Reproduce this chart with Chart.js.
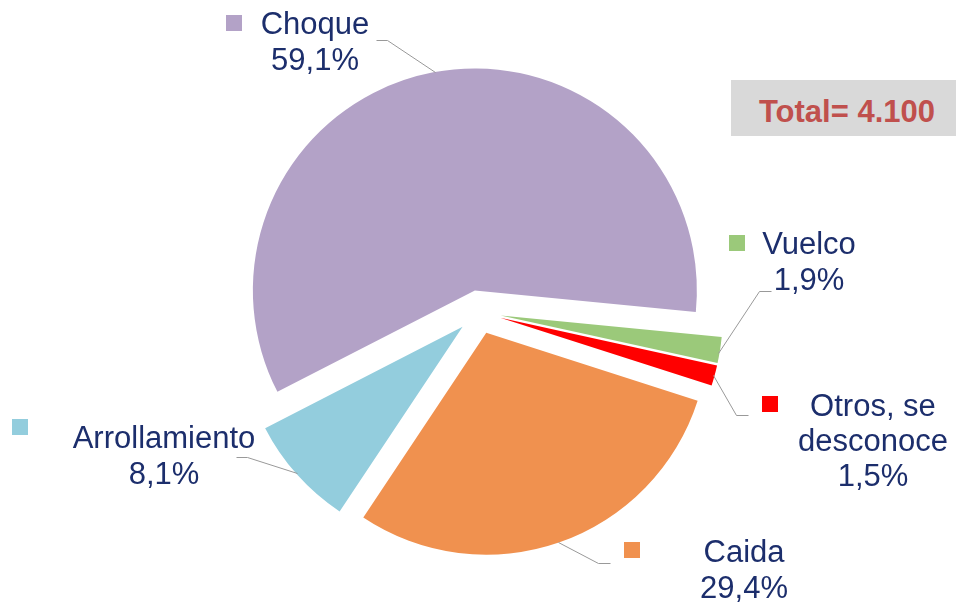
<!DOCTYPE html>
<html><head><meta charset="utf-8">
<script src="https://cdn.jsdelivr.net/npm/chart.js@4.4.0/dist/chart.umd.min.js"></script>
<style>
html,body{margin:0;padding:0;background:#fff;}
#wrap{position:relative;width:958px;height:603px;overflow:hidden;}
#wrap canvas{position:absolute;left:0;top:0;}
.lbl{position:absolute;font-family:"Liberation Sans",Arial,sans-serif;font-size:31px;line-height:36px;color:#1c2e6c;text-align:center;transform:translateX(-50%);}
.sq{position:absolute;width:16px;height:16px;}
#totalBox{position:absolute;left:731px;top:80px;width:225px;height:56px;background:#d9d9d9;}
#totalTxt{position:absolute;left:847px;top:94px;transform:translateX(-50%);font-family:"Liberation Sans",Arial,sans-serif;font-weight:bold;font-size:31px;line-height:36px;color:#c0504d;white-space:nowrap;}
</style>
</head><body>
<div id="wrap"><canvas id="c" width="958" height="603"></canvas></div>
<script>
// ---- data ----
const categories = ["Choque", "Vuelco", "Otros, se desconoce", "Caida", "Arrollamiento"];
const values = [59.1, 1.9, 1.5, 29.4, 8.1];
const totalCount = 4100;

// ---- styles / layout ----
const colors = ["#b3a2c7", "#9bc97a", "#ff0000", "#f0914f", "#93cddd"];
const EXPLODE = 22;
const labelLayout = [
  {cx:315, top:6,   width:200, sq:[226,15]},
  {cx:809, top:226, width:200, sq:[729,235]},
  {cx:873, top:388, width:170, sq:[762,396], lh:35},
  {cx:744, top:534, width:200, sq:[624,542]},
  {cx:164, top:420, width:240, sq:[12,419]}
];
const leaders = [
  [[376,40],[387,40],[435,72]],
  [[771,291],[759,291],[718,353]],
  [[748,415],[736,415],[713,375]],
  [[610,563],[598,563],[558,542]],
  [[236,457],[247,457],[297,473]]
];

const explodePlugin = {
  id:'explode',
  afterDatasetsUpdate(chart){
    const meta = chart.getDatasetMeta(0);
    meta.data.forEach(a=>{
      const m = (a.startAngle + a.endAngle)/2;
      a.x += Math.cos(m)*EXPLODE;
      a.y += Math.sin(m)*EXPLODE;
    });
  }
};
const leaderPlugin = {
  id:'leaders',
  afterDatasetsDraw(chart){
    const ctx = chart.ctx;
    ctx.save();
    ctx.strokeStyle = '#999999';
    ctx.lineWidth = 1;
    leaders.forEach(pts=>{
      ctx.beginPath();
      pts.forEach((p,i)=> i ? ctx.lineTo(p[0]+0.5,p[1]+0.5) : ctx.moveTo(p[0]+0.5,p[1]+0.5));
      ctx.stroke();
    });
    ctx.restore();
  }
};

new Chart(document.getElementById('c'), {
  type:'pie',
  data:{labels:categories, datasets:[{data:values, backgroundColor:colors, borderWidth:0}]},
  options:{
    responsive:false, animation:false, events:[],
    rotation:242.8, radius:222,
    layout:{padding:{top:21}},
    plugins:{legend:{display:false}, tooltip:{enabled:false}}
  },
  plugins:[explodePlugin, leaderPlugin]
});

// labels
const wrap = document.getElementById('wrap');
const fmtPct = v => v.toFixed(1).replace('.', ',') + '%';
categories.forEach((name,i)=>{
  const L = labelLayout[i];
  const sq = document.createElement('div');
  sq.className='sq'; sq.style.left=L.sq[0]+'px'; sq.style.top=L.sq[1]+'px'; sq.style.background=colors[i];
  wrap.appendChild(sq);
  const d = document.createElement('div');
  d.className='lbl';
  d.style.left=L.cx+'px'; d.style.top=L.top+'px'; d.style.width=L.width+'px';
  if (L.lh) d.style.lineHeight = L.lh+'px';
  d.innerHTML = name + '<br>' + fmtPct(values[i]);
  wrap.appendChild(d);
});
const box = document.createElement('div'); box.id='totalBox'; wrap.appendChild(box);
const tt = document.createElement('div'); tt.id='totalTxt';
tt.textContent = 'Total= ' + totalCount.toLocaleString('de-DE');
wrap.appendChild(tt);
</script>
</body></html>
